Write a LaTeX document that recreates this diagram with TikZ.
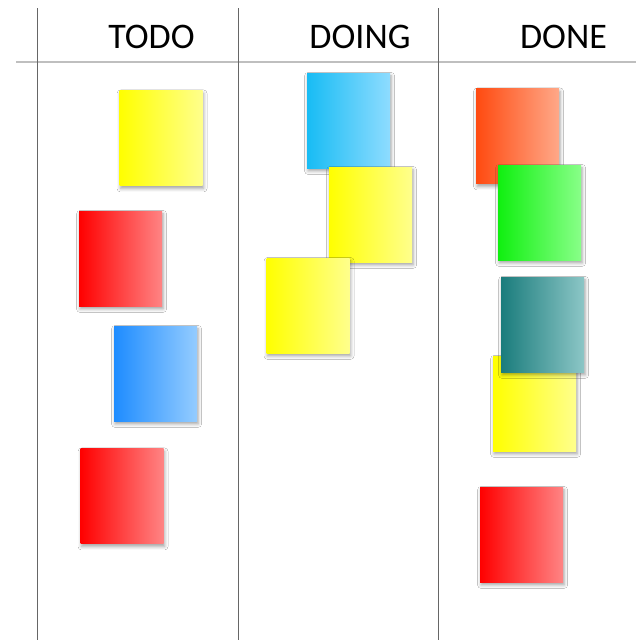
\documentclass[tikz,border=0pt]{standalone}
\usepackage{fontspec}
\setmainfont{Carlito}
\usetikzlibrary{shadows.blur}
\tikzset{
  board/.style={x=0.75pt,y=-0.75pt},
  colline/.style={draw=black!60,line width=0.7pt},
  headline/.style={draw=black!25,line width=1.5pt},
  headtext/.style={inner sep=0pt,anchor=base,font=\fontsize{27}{32}\selectfont},
  sticky/.style 2 args={inner sep=0pt,outer sep=0pt,minimum width=62.25pt,minimum height=71.25pt,
    shading=axis,left color=#1,right color=#2,shading angle=90,
    blur shadow={shadow xshift=0.8pt,shadow yshift=-2.2pt,shadow blur radius=2.6pt,shadow opacity=38}},
}
\definecolor{yelL}{HTML}{FFFF00}\definecolor{yelR}{HTML}{FFFF8C}
\definecolor{redL}{HTML}{FF0000}\definecolor{redR}{HTML}{FF8484}
\definecolor{bluL}{HTML}{1E8CFF}\definecolor{bluR}{HTML}{94CCFF}
\definecolor{cyaL}{HTML}{18BCF4}\definecolor{cyaR}{HTML}{8EDCFF}
\definecolor{oraL}{HTML}{FF4A10}\definecolor{oraR}{HTML}{FFA888}
\definecolor{grnL}{HTML}{10F010}\definecolor{grnR}{HTML}{88FF88}
\definecolor{tealL}{HTML}{1A7C7C}\definecolor{tealR}{HTML}{8CC6C6}
\begin{document}
\begin{tikzpicture}[board]
\useasboundingbox[fill=white] (0,0) rectangle (636,640);
% grid lines
\coordinate (v1t) at (37,8); \coordinate (v1b) at (37,640);
\coordinate (v2t) at (238,8); \coordinate (v2b) at (238,640);
\coordinate (v3t) at (438,8); \coordinate (v3b) at (438,640);
\coordinate (hl) at (16,62); \coordinate (hr) at (636,62);
\draw[headline] (hl) -- (hr);
\draw[colline] (v1t) -- (v1b);
\draw[colline] (v2t) -- (v2b);
\draw[colline] (v3t) -- (v3b);
% headers
\node[headtext] (todo) at (151.5,48) {TODO};
\node[headtext] (doing) at (360,48) {DOING};
\node[headtext] (done) at (563.5,48) {DONE};
% TODO column
\node[sticky={yelL}{yelR}] (n1) at (161,138) {};
\node[sticky={redL}{redR}] (n2) at (120.5,258.5) {};
\node[sticky={bluL}{bluR}] (n3) at (155.5,373.5) {};
\node[sticky={redL}{redR}] (n4) at (122,496) {};
% DOING column
\node[sticky={cyaL}{cyaR}] (n5) at (348.5,120.5) {};
\node[sticky={yelL}{yelR}] (n6) at (370.5,214.5) {};
\node[sticky={yelL}{yelR}] (n7) at (308,305.5) {};
% DONE column
\node[sticky={oraL}{oraR}] (n8) at (517.5,136) {};
\node[sticky={grnL}{grnR}] (n9) at (539.5,212.5) {};
\node[sticky={yelL}{yelR}] (n10) at (534.5,403.5) {};
\node[sticky={tealL}{tealR}] (n11) at (542.5,324.5) {};
\node[sticky={redL}{redR}] (n12) at (521.5,534.5) {};
\end{tikzpicture}
\end{document}
